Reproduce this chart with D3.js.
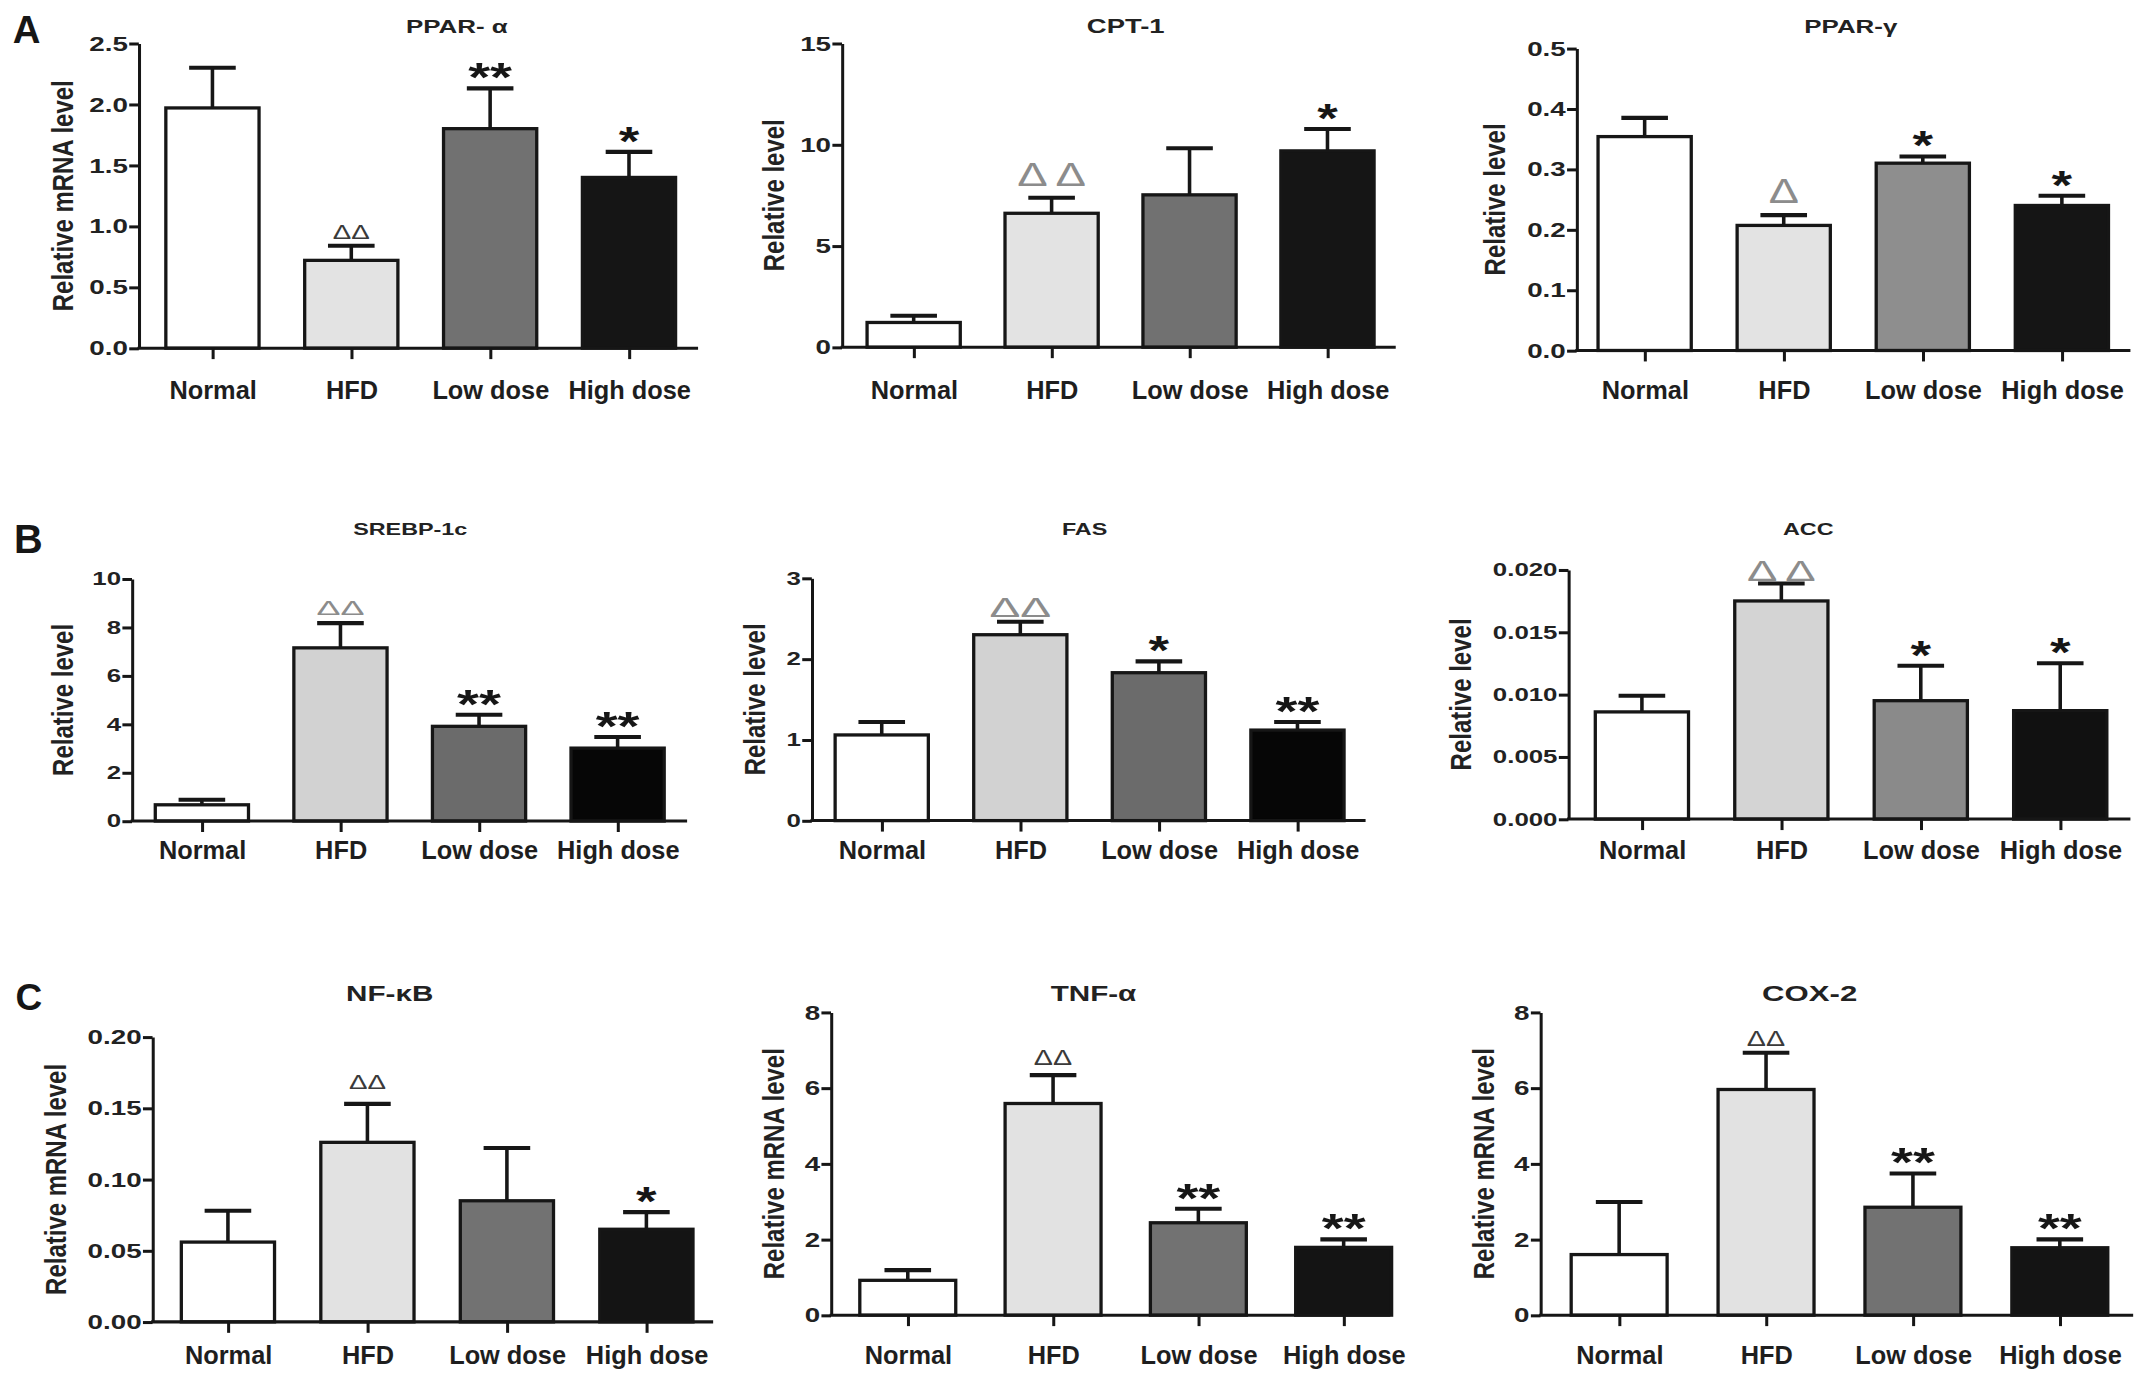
<!DOCTYPE html>
<html>
<head>
<meta charset="utf-8">
<script src="https://cdn.jsdelivr.net/npm/d3@7"></script>
<style>
body { margin: 0; background: #fff; }
svg text { font-family: "Liberation Sans", Arial, sans-serif; }
</style>
</head>
<body>
<svg id="fig" width="2150" height="1383" viewBox="0 0 1568 1009"></svg>
<script>
var groups = ['Normal', 'HFD', 'Low dose', 'High dose']

// A
var pparAlphaMean = [1.97, 0.72, 1.80, 1.40]
var pparAlphaSem = [0.33, 0.12, 0.33, 0.21]
var pparAlphaMarks = ['', 'ΔΔ', '**', '*']
var pparAlphaTicks = [0, 0.5, 1.0, 1.5, 2.0, 2.5]

var cpt1Mean = [1.22, 6.61, 7.52, 9.69]
var cpt1Sem = [0.33, 0.77, 2.30, 1.08]
var cpt1Marks = ['', 'Δ Δ', '', '*']
var cpt1Ticks = [0, 5, 10, 15]

var pparGammaMean = [0.354, 0.207, 0.310, 0.240]
var pparGammaSem = [0.031, 0.017, 0.011, 0.016]
var pparGammaMarks = ['', 'Δ', '*', '*']
var pparGammaTicks = [0, 0.1, 0.2, 0.3, 0.4, 0.5]

// B
var srebpMean = [0.67, 7.15, 3.91, 3.01]
var srebpSem = [0.21, 1.02, 0.48, 0.46]
var srebpMarks = ['', 'ΔΔ', '**', '**']
var srebpTicks = [0, 2, 4, 6, 8, 10]

var fasMean = [1.06, 2.30, 1.83, 1.12]
var fasSem = [0.16, 0.16, 0.14, 0.10]
var fasMarks = ['', 'ΔΔ', '*', '**']
var fasTicks = [0, 1, 2, 3]

var accMean = [0.0086, 0.0175, 0.0095, 0.0087]
var accSem = [0.0013, 0.0014, 0.0028, 0.0038]
var accMarks = ['', 'Δ Δ', '*', '*']
var accTicks = [0, 0.005, 0.010, 0.015, 0.020]

// C
var nfkbMean = [0.056, 0.126, 0.085, 0.065]
var nfkbSem = [0.022, 0.027, 0.037, 0.012]
var nfkbMarks = ['', 'ΔΔ', '', '*']
var nfkbTicks = [0, 0.05, 0.10, 0.15, 0.20]

var tnfMean = [0.92, 5.59, 2.44, 1.79]
var tnfSem = [0.27, 0.75, 0.37, 0.21]
var tnfMarks = ['', 'ΔΔ', '**', '**']
var tnfTicks = [0, 2, 4, 6, 8]

var cox2Mean = [1.60, 5.96, 2.85, 1.78]
var cox2Sem = [1.39, 0.97, 0.89, 0.22]
var cox2Marks = ['', 'ΔΔ', '**', '**']
var cox2Ticks = [0, 2, 4, 6, 8]

// fills per row
var fillsA = ['#ffffff', '#e3e3e3', '#717171', '#151515']
var fillsA3 = ['#ffffff', '#e3e3e3', '#8e8e8e', '#151515']
var fillsB = ['#ffffff', '#d2d2d2', '#6b6b6b', '#060606']
var fillsB3 = ['#ffffff', '#d4d4d4', '#8a8a8a', '#111111']
var fillsC = ['#ffffff', '#e2e2e2', '#727272', '#141414']

// text in the source figure is drawn wider than normal, so most labels get a horizontal stretch
var tickA = { size: 15, sx: 1.35 }
var tickB = { size: 13, sx: 1.45 }
var tickC = { size: 15, sx: 1.35 }

var panels = [
    { title: 'PPAR- α', mean: pparAlphaMean, sem: pparAlphaSem, marks: pparAlphaMarks, ticks: pparAlphaTicks, fmt: '.1f',
      ylabel: 'Relative mRNA level', fills: fillsA, x0: 101, x1: 509, c0: 154.7, c3: 458.6, yTop: 31.6, yZero: 254,
      titleX: 333, titleY: 24, titleSize: 13.5, titleSx: 1.4, tick: tickA, labelX: 45, catY: 291, barW: 68,
      tri: { size: 15, width: 27, color: '#3a3a3a', gap: 10 } },
    { title: 'CPT-1', mean: cpt1Mean, sem: cpt1Sem, marks: cpt1Marks, ticks: cpt1Ticks, fmt: 'd',
      ylabel: 'Relative level', fills: fillsA, x0: 614, x1: 1018, c0: 666.3, c3: 968.2, yTop: 31.6, yZero: 253.3,
      titleX: 821, titleY: 24, titleSize: 14.5, titleSx: 1.38, tick: tickA, labelX: 564, catY: 291, barW: 68,
      tri: { size: 24, width: 50, color: '#8c8c8c', gap: 17 } },
    { title: 'PPAR-γ', mean: pparGammaMean, sem: pparGammaSem, marks: pparGammaMarks, ticks: pparGammaTicks, fmt: '.1f',
      ylabel: 'Relative level', fills: fillsA3, x0: 1150, x1: 1554, c0: 1199.6, c3: 1504, yTop: 35.3, yZero: 255.7,
      titleX: 1350, titleY: 24, titleSize: 13.5, titleSx: 1.4, tick: tickA, labelX: 1090, catY: 291, barW: 68,
      tri: { size: 26, width: 22, color: '#8c8c8c', gap: 18 } },
    { title: 'SREBP-1c', mean: srebpMean, sem: srebpSem, marks: srebpMarks, ticks: srebpTicks, fmt: 'd',
      ylabel: 'Relative level', fills: fillsB, x0: 96, x1: 501, c0: 147, c3: 450.3, yTop: 422.3, yZero: 599,
      titleX: 299, titleY: 390, titleSize: 12, titleSx: 1.42, tick: tickB, labelX: 45, catY: 627, barW: 68,
      tri: { size: 15, width: 35, color: '#8c8c8c', gap: 11 } },
    { title: 'FAS', mean: fasMean, sem: fasSem, marks: fasMarks, ticks: fasTicks, fmt: 'd',
      ylabel: 'Relative level', fills: fillsB, x0: 592, x1: 996, c0: 643, c3: 946.3, yTop: 421.8, yZero: 598.7,
      titleX: 791, titleY: 390, titleSize: 12, titleSx: 1.42, tick: tickB, labelX: 550, catY: 627, barW: 68,
      tri: { size: 20, width: 45, color: '#8c8c8c', gap: 11 } },
    { title: 'ACC', mean: accMean, sem: accSem, marks: accMarks, ticks: accTicks, fmt: '.3f',
      ylabel: 'Relative level', fills: fillsB3, x0: 1144, x1: 1554, c0: 1197.6, c3: 1502.8, yTop: 415.7, yZero: 597.6,
      titleX: 1319, titleY: 390, titleSize: 12, titleSx: 1.42, tick: tickB, labelX: 1065, catY: 627, barW: 68,
      tri: { size: 22, width: 50, color: '#8c8c8c', gap: 10 } },
    { title: 'NF-κB', mean: nfkbMean, sem: nfkbSem, marks: nfkbMarks, ticks: nfkbTicks, fmt: '.2f',
      ylabel: 'Relative mRNA level', fills: fillsC, x0: 111, x1: 520, c0: 166, c3: 471.3, yTop: 756.5, yZero: 964.4,
      titleX: 284, titleY: 730.5, titleSize: 16, titleSx: 1.35, tick: tickC, labelX: 40, catY: 995, barW: 68,
      tri: { size: 15, width: 27, color: '#3a3a3a', gap: 16 } },
    { title: 'TNF-α', mean: tnfMean, sem: tnfSem, marks: tnfMarks, ticks: tnfTicks, fmt: 'd',
      ylabel: 'Relative mRNA level', fills: fillsC, x0: 606, x1: 1014, c0: 662, c3: 980, yTop: 738.5, yZero: 959.5,
      titleX: 797.5, titleY: 730.5, titleSize: 16, titleSx: 1.35, tick: tickC, labelX: 564, catY: 995, barW: 70,
      tri: { size: 16, width: 28, color: '#3a3a3a', gap: 13 } },
    { title: 'COX-2', mean: cox2Mean, sem: cox2Sem, marks: cox2Marks, ticks: cox2Ticks, fmt: 'd',
      ylabel: 'Relative mRNA level', fills: fillsC, x0: 1123.6, x1: 1556, c0: 1181, c3: 1502.5, yTop: 738.5, yZero: 959.5,
      titleX: 1320, titleY: 730.5, titleSize: 16, titleSx: 1.42, tick: tickC, labelX: 1082, catY: 995, barW: 70,
      tri: { size: 16, width: 28, color: '#3a3a3a', gap: 11 } }
]

var letters = [
    { t: 'A', x: 9, y: 31.7, s: 28 },
    { t: 'B', x: 10, y: 403.5, s: 29 },
    { t: 'C', x: 11, y: 737, s: 27 }
]

var ink = '#161616'
var svg = d3.select('#fig')

svg.selectAll('text.letter')
    .data(letters)
    .enter()
    .append('text')
    .attr('class', 'letter')
    .attr('x', function (d) { return d.x })
    .attr('y', function (d) { return d.y })
    .style('font-size', function (d) { return d.s + 'px' })
    .style('font-weight', 'bold')
    .style('fill', ink)
    .text(function (d) { return d.t })

function drawPanel(p) {
    var g = svg.append('g')
    var x = d3.scalePoint().domain(groups).range([p.c0, p.c3])
    var y = d3.scaleLinear().domain([0, d3.max(p.ticks)]).range([p.yZero, p.yTop])

    // error bars (upper only)
    var err = g.selectAll('g.err')
        .data(p.mean)
        .enter()
        .append('g')
    err.append('line')
        .attr('x1', function (d, i) { return x(groups[i]) })
        .attr('x2', function (d, i) { return x(groups[i]) })
        .attr('y1', function (d) { return y(d) })
        .attr('y2', function (d, i) { return y(d + p.sem[i]) })
        .style('stroke', ink)
        .style('stroke-width', 2.6)
    err.append('line')
        .attr('x1', function (d, i) { return x(groups[i]) - 17 })
        .attr('x2', function (d, i) { return x(groups[i]) + 17 })
        .attr('y1', function (d, i) { return y(d + p.sem[i]) })
        .attr('y2', function (d, i) { return y(d + p.sem[i]) })
        .style('stroke', ink)
        .style('stroke-width', 3)

    g.selectAll('rect.bar')
        .data(p.mean)
        .enter()
        .append('rect')
        .attr('class', 'bar')
        .attr('x', function (d, i) { return x(groups[i]) - p.barW / 2 })
        .attr('y', function (d) { return y(d) })
        .attr('width', p.barW)
        .attr('height', function (d) { return p.yZero - y(d) })
        .style('fill', function (d, i) { return p.fills[i] })
        .style('stroke', ink)
        .style('stroke-width', 2.4)

    // y axis
    var ya = g.append('g')
        .attr('transform', 'translate(' + p.x0 + ',0)')
        .call(d3.axisLeft(y).tickValues(p.ticks).tickFormat(d3.format(p.fmt))
            .tickSize(7).tickSizeOuter(0))
    ya.selectAll('path, line').style('stroke', ink).style('stroke-width', 2.2)
    ya.selectAll('text')
        .attr('x', -8 / p.tick.sx)
        .attr('transform', 'scale(' + p.tick.sx + ',1)')
        .style('font-size', p.tick.size + 'px')
        .style('font-weight', 'bold')
        .style('fill', '#222')

    // x axis
    g.append('line')
        .attr('x1', p.x0 - 1)
        .attr('x2', p.x1)
        .attr('y1', p.yZero)
        .attr('y2', p.yZero)
        .style('stroke', ink)
        .style('stroke-width', 2.2)
    var xa = g.append('g')
        .attr('transform', 'translate(0,' + p.yZero + ')')
        .call(d3.axisBottom(x).tickSize(8).tickSizeOuter(0))
    xa.select('.domain').remove()
    xa.selectAll('line').style('stroke', ink).style('stroke-width', 2.2)
    xa.selectAll('text')
        .attr('y', p.catY - p.yZero)
        .attr('dy', null)
        .style('font-size', '18.5px')
        .style('font-weight', 'bold')
        .style('fill', '#1e1e1e')

    // y label
    var ls = 17.5, lsx = 1.22
    g.append('text')
        .attr('transform', 'translate(' + (p.labelX + 0.36 * ls * lsx) + ',' + ((p.yTop + p.yZero) / 2) + ') scale(' + lsx + ',1) rotate(-90)')
        .attr('text-anchor', 'middle')
        .style('font-size', ls + 'px')
        .style('font-weight', 'bold')
        .style('fill', '#222')
        .text(p.ylabel)

    // title
    g.append('text')
        .attr('transform', 'translate(' + p.titleX + ',' + p.titleY + ') scale(' + p.titleSx + ',1)')
        .attr('text-anchor', 'middle')
        .style('font-size', p.titleSize + 'px')
        .style('font-weight', 'bold')
        .style('fill', '#222')
        .text(p.title)

    // significance marks
    p.marks.forEach(function (m, i) {
        if (!m) return
        var cap = y(p.mean[i] + p.sem[i])
        var t = g.append('text')
            .attr('x', x(groups[i]))
            .attr('text-anchor', 'middle')
            .attr('lengthAdjust', 'spacingAndGlyphs')
            .text(m)
        if (m.indexOf('*') >= 0) {
            var fs = 30
            t.attr('y', cap - 15 + 0.57 * fs)
                .attr('textLength', m.length === 1 ? 15 : 32)
                .style('font-size', fs + 'px')
                .style('font-weight', 'bold')
                .style('fill', ink)
        } else {
            t.attr('y', cap - p.tri.gap + 0.36 * p.tri.size)
                .attr('textLength', p.tri.width)
                .style('font-size', p.tri.size + 'px')
                .style('fill', p.tri.color)
        }
    })
}

panels.forEach(drawPanel)
</script>
</body>
</html>
